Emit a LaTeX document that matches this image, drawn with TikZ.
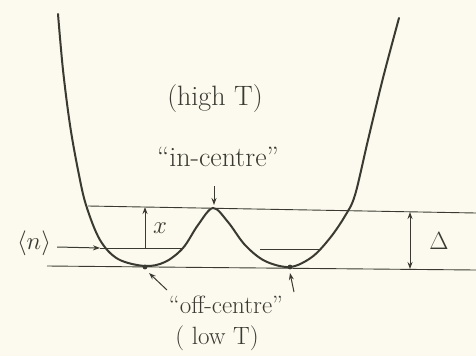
\documentclass[tikz,border=0pt]{standalone}
\usepackage{fontspec}
\setmainfont{Latin Modern Roman}
\usetikzlibrary{arrows.meta}
\definecolor{paper}{HTML}{FCFAEE}
\definecolor{ink}{HTML}{3A3A32}
\begin{document}
\begin{tikzpicture}[x=1pt,y=-1pt,
  line/.style={draw=ink,line width=0.9pt},
  curve/.style={draw=ink,line width=2pt,line cap=round},
  arr/.style={draw=ink,line width=1pt,-{Stealth[length=7pt,width=5pt]}},
  darr/.style={draw=ink,line width=1pt,{Stealth[length=7pt,width=5pt]}-{Stealth[length=7pt,width=5pt]}},
  lbl/.style={text=ink,font=\fontsize{28}{30}\selectfont,inner sep=1pt},
  blbl/.style={text=ink,font=\fontsize{25}{27}\selectfont,inner sep=1pt},
  slbl/.style={text=ink,font=\fontsize{25}{27}\selectfont,inner sep=1pt}]
\fill[paper] (0,0) rectangle (476,356);
\useasboundingbox (0,0) rectangle (476,356);
% horizontal lines
\coordinate (tl) at (88,206); \coordinate (tr) at (476,213);
\coordinate (bl) at (47,266); \coordinate (br) at (476,270);
\draw[line] (tl) -- (tr);
\draw[line] (bl) -- (br);
\coordinate (ml) at (100,248); \coordinate (mr) at (182,248);
\draw[line] (ml) -- (mr);
\coordinate (rl) at (260,249); \coordinate (rr) at (320,249);
\draw[line] (rl) -- (rr);
% potential curve
\draw[curve] plot[smooth,tension=0.55] coordinates {(58,14) (63,70) (70,125) (78,170) (86,205) (100,240) (118,259) (145,266) (165,262) (183,248) (198,225) (213,208) (228,222) (245,245) (265,261) (290,267) (312,257) (330,238) (345,216) (355,195) (368,140) (383,78) (399,18)};
% minima dots
\fill[ink] (145,267) circle (2.4pt);
\fill[ink] (290,267) circle (2.4pt);
% x arrow
\coordinate (xb) at (145,248); \coordinate (xt) at (145,207);
\draw[arr] (xb) -- (xt);
\node[slbl] (xl) at (160,228) {$x$};
% <n>
\node[slbl] (n) at (34,243) {$\langle n\rangle$};
\coordinate (np) at (100,248);
\draw[arr] (n.east) ++(5,4) -- (np);
% Delta
\coordinate (dt) at (410,212); \coordinate (db) at (410,269);
\draw[darr] (dt) -- (db);
\node[slbl] (dl) at (439,241) {$\Delta$};
% labels
\node[lbl] (high) at (215,99) {(high T)};
\node[lbl] (inc) at (218,157) {``in-centre''};
\coordinate (ina) at (214,186); \coordinate (inb) at (214,205);
\draw[arr] (ina) -- (inb);
\node[blbl] (off) at (226,305) {``off-centre''};
\node[blbl] (low) at (217,338) {( low T)};
\coordinate (oa) at (167,290); \coordinate (ob) at (149,273);
\draw[arr] (oa) -- (ob);
\coordinate (ra) at (294,292); \coordinate (rb) at (290,273);
\draw[arr] (ra) -- (rb);
\end{tikzpicture}
\end{document}
